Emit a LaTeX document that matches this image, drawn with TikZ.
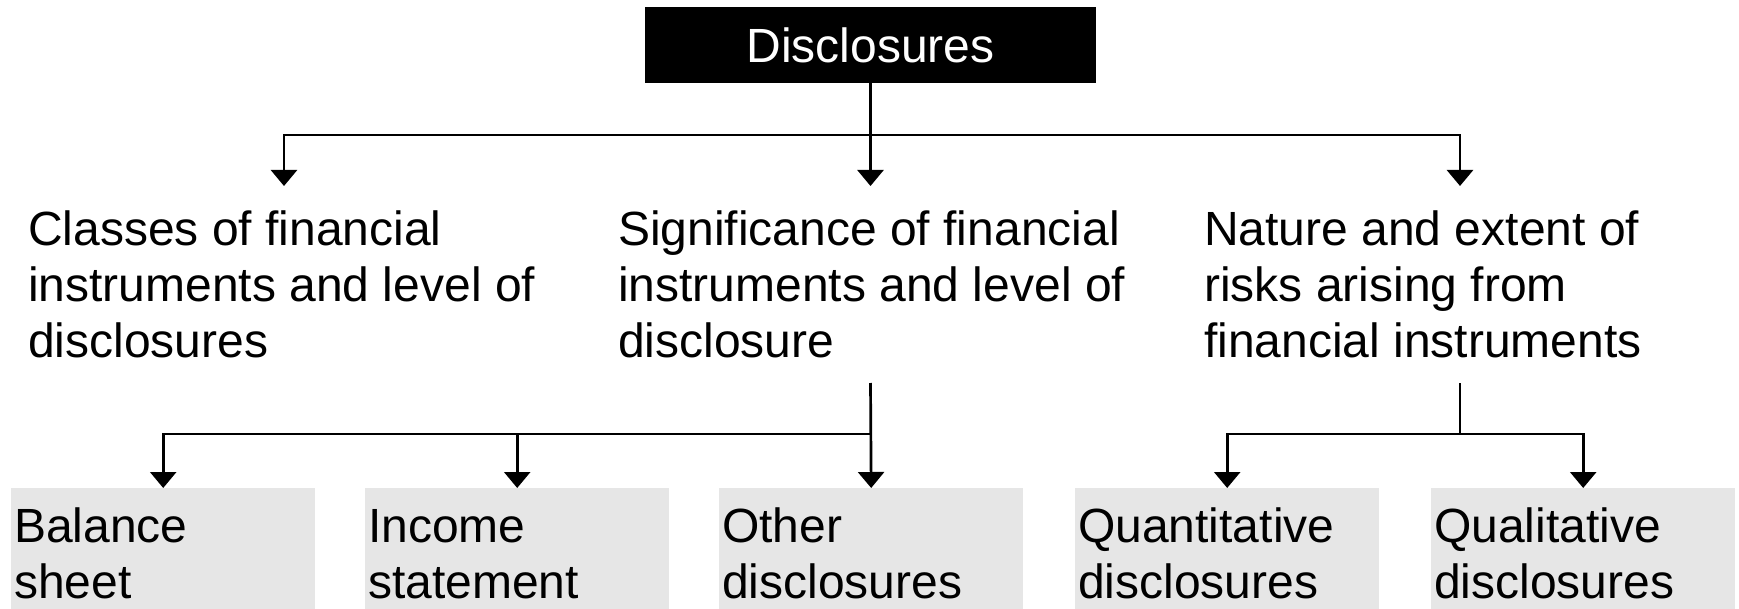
\documentclass[tikz,border=0pt]{standalone}
\usepackage{fontspec}
\setmainfont{Liberation Sans}
\usetikzlibrary{arrows.meta}
\definecolor{boxgray}{RGB}{230,230,230}
\begin{document}
\begin{tikzpicture}[x=1pt,y=-1pt,
  txt/.style={font=\fontsize{48}{56}\selectfont, inner sep=0pt, align=left, anchor=north west},
  leaf/.style={font=\fontsize{48}{56}\selectfont, fill=boxgray, minimum width=304pt, minimum height=121pt,
     text width=298pt, inner xsep=3pt, inner ysep=0pt, align=left, anchor=north west},
  ln/.style={line width=2.7pt},
  arr/.style={line width=2.7pt, -{Triangle[width=26pt,length=16pt]}}]
\useasboundingbox (0,0) rectangle (1739,609);

\node[fill=black, text=white, minimum width=451pt, minimum height=76pt, inner sep=0pt,
  font=\fontsize{48}{56}\selectfont] (top) at (870.5,45) {Disclosures};

\node[txt] (cls) at (28,193) {\rule{0pt}{52pt}Classes of financial\\instruments and level of\\disclosures};
\node[txt] (sig) at (618,193) {\rule{0pt}{52pt}Significance of financial\\instruments and level of\\disclosure};
\node[txt] (nat) at (1204,193) {\rule{0pt}{52pt}Nature and extent of\\risks arising from\\financial instruments};

\node[leaf] (bal) at (11,488) {\rule{0pt}{54pt}Balance\\sheet\rule[-11pt]{0pt}{11pt}};
\node[leaf] (inc) at (365,488) {\rule{0pt}{54pt}Income\\statement\rule[-11pt]{0pt}{11pt}};
\node[leaf] (oth) at (719,488) {\rule{0pt}{54pt}Other\\disclosures\rule[-11pt]{0pt}{11pt}};
\node[leaf] (qua) at (1075,488) {\rule{0pt}{54pt}Quantitative\\disclosures\rule[-11pt]{0pt}{11pt}};
\node[leaf] (qul) at (1431,488) {\rule{0pt}{54pt}Qualitative\\disclosures\rule[-11pt]{0pt}{11pt}};

\coordinate (j) at (870.5,135);
\coordinate (a1) at (284,186);
\coordinate (a2) at (870.5,186);
\coordinate (a3) at (1460,186);
\draw[arr] (top.south) -- (a2);
\draw[arr] (j) -| (a1);
\draw[arr] (j) -| (a3);

\coordinate (m) at (870.5,383);
\coordinate (mj) at (870.5,434);
\draw[arr] (m) -- (oth.north);
\draw[arr] (mj) -| (bal.north);
\draw[arr] (mj) -| (inc.north);

\coordinate (n) at (1460,383);
\coordinate (nj) at (1460,434);
\draw[ln] (n) -- (nj);
\draw[arr] (nj) -| (qua.north);
\draw[arr] (nj) -| (qul.north);
\end{tikzpicture}
\end{document}
